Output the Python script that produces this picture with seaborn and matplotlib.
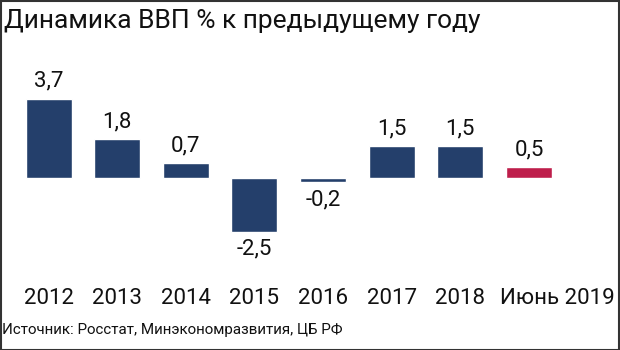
import matplotlib
matplotlib.use("Agg")
import matplotlib.pyplot as plt
import seaborn as sns
import pandas as pd
from matplotlib.patches import Rectangle
from matplotlib.transforms import ScaledTranslation
from matplotlib import font_manager as fm

categories = ["2012", "2013", "2014", "2015", "2016", "2017", "2018", "Июнь 2019"]
values = [3.7, 1.8, 0.7, -2.5, -0.2, 1.5, 1.5, 0.5]
value_labels = ["3,7", "1,8", "0,7", "-2,5", "-0,2", "1,5", "1,5", "0,5"]
title = "Динамика ВВП % к предыдущему году"
source = "Источник: Росстат, Минэкономразвития, ЦБ РФ"

BLUE = "#243f6b"
RED = "#be1e4b"
colors = [BLUE] * 7 + [RED]

sns.set_theme(style="white")
plt.rcParams["font.family"] = ["Roboto", "DejaVu Sans"]

names = {f.name for f in fm.fontManager.ttflist}
narrow = "Liberation Sans Narrow" if "Liberation Sans Narrow" in names else "Roboto"

df = pd.DataFrame({"cat": categories, "val": values})

W, H = 620, 350
fig = plt.figure(figsize=(6.2, 3.5), dpi=100)
ax = fig.add_axes([14.25 / W, (H - 260) / H, 549 / W, 180 / H])

sns.barplot(data=df, x="cat", y="val", hue="cat", palette=colors, width=0.67,
            legend=False, ax=ax, saturation=1)

ax.set_xlim(-0.5, 7.5)
ax.set_ylim(-(260 - 178) / 21.4, (178 - 80) / 21.4)
ax.set_xlabel("")
ax.set_ylabel("")
ax.set_yticks([])
ax.tick_params(axis="x", length=0, pad=20, labelsize=16, labelcolor="#111111")
for s in ax.spines.values():
    s.set_visible(False)

# shift the last category label to the right as in the reference
last = ax.get_xticklabels()[-1]
last.set_transform(last.get_transform() + ScaledTranslation(28 / 100, 0, fig.dpi_scale_trans))

for i, (v, lab) in enumerate(zip(values, value_labels)):
    if v >= 0:
        ax.annotate(lab, (i, v), xytext=(0, 5), textcoords="offset points",
                    ha="center", va="bottom", fontsize=16, color="#111111")
    else:
        ax.annotate(lab, (i, v), xytext=(0, -5), textcoords="offset points",
                    ha="center", va="top", fontsize=16, color="#111111")

t_title = fig.text(4 / W, 1 - 21 / H, title, fontsize=22, ha="left", va="center",
                   color="#111111", family=[narrow, "DejaVu Sans"])
t_src = fig.text(2 / W, 1 - 330 / H, source, fontsize=11, ha="left", va="center",
                 color="#111111", family=[narrow, "DejaVu Sans"])


def fit_width(t, target_px):
    r = fig.canvas.get_renderer()
    for _ in range(4):
        w = t.get_window_extent(renderer=r).width
        t.set_fontsize(t.get_fontsize() * target_px / w)


fit_width(t_title, 476)
fit_width(t_src, 344)

fig.patches.append(Rectangle((0.5 / W, 0.5 / H), 1 - 1.5 / W, 1 - 1.5 / H,
                             transform=fig.transFigure, fill=False,
                             edgecolor="#333333", linewidth=1.5))

fig.savefig("out.png", dpi=100)
